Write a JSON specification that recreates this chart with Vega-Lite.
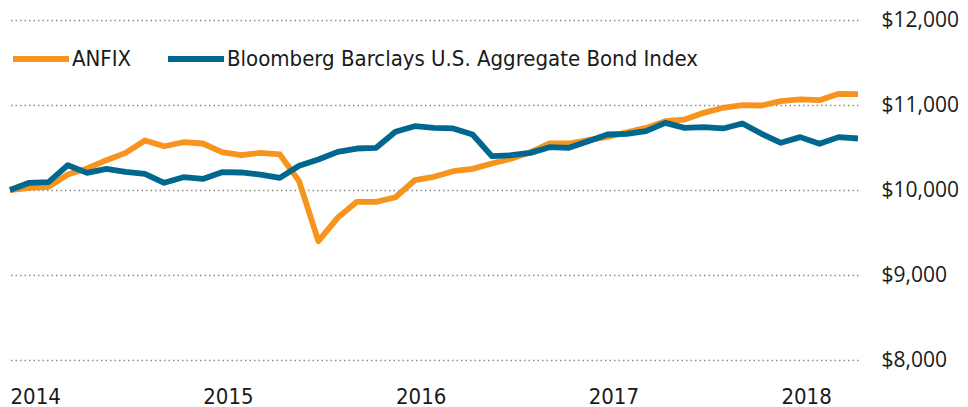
{
  "$schema": "https://vega.github.io/schema/vega-lite/v6.json",
  "width": 848,
  "height": 340,
  "autosize": {"type": "none"},
  "padding": {"left": 10, "top": 20, "right": 110, "bottom": 47},
  "background": "white",
  "config": {"view": {"stroke": null}},
  "data": {
    "values": [
      {"t": 2014.0, "series": "ANFIX", "value": 10000},
      {"t": 2014.1, "series": "ANFIX", "value": 10026},
      {"t": 2014.2, "series": "ANFIX", "value": 10037},
      {"t": 2014.3, "series": "ANFIX", "value": 10182},
      {"t": 2014.4, "series": "ANFIX", "value": 10253},
      {"t": 2014.5, "series": "ANFIX", "value": 10351},
      {"t": 2014.6, "series": "ANFIX", "value": 10437},
      {"t": 2014.7, "series": "ANFIX", "value": 10582},
      {"t": 2014.8, "series": "ANFIX", "value": 10515},
      {"t": 2014.9, "series": "ANFIX", "value": 10562},
      {"t": 2015.0, "series": "ANFIX", "value": 10547},
      {"t": 2015.1, "series": "ANFIX", "value": 10445},
      {"t": 2015.2, "series": "ANFIX", "value": 10409},
      {"t": 2015.3, "series": "ANFIX", "value": 10437},
      {"t": 2015.4, "series": "ANFIX", "value": 10418},
      {"t": 2015.5, "series": "ANFIX", "value": 10104},
      {"t": 2015.6, "series": "ANFIX", "value": 9398},
      {"t": 2015.7, "series": "ANFIX", "value": 9673},
      {"t": 2015.8, "series": "ANFIX", "value": 9861},
      {"t": 2015.9, "series": "ANFIX", "value": 9861},
      {"t": 2016.0, "series": "ANFIX", "value": 9915},
      {"t": 2016.1, "series": "ANFIX", "value": 10115},
      {"t": 2016.2, "series": "ANFIX", "value": 10155},
      {"t": 2016.3, "series": "ANFIX", "value": 10221},
      {"t": 2016.4, "series": "ANFIX", "value": 10249},
      {"t": 2016.5, "series": "ANFIX", "value": 10312},
      {"t": 2016.6, "series": "ANFIX", "value": 10367},
      {"t": 2016.7, "series": "ANFIX", "value": 10445},
      {"t": 2016.8, "series": "ANFIX", "value": 10547},
      {"t": 2016.9, "series": "ANFIX", "value": 10547},
      {"t": 2017.0, "series": "ANFIX", "value": 10586},
      {"t": 2017.1, "series": "ANFIX", "value": 10625},
      {"t": 2017.2, "series": "ANFIX", "value": 10680},
      {"t": 2017.3, "series": "ANFIX", "value": 10731},
      {"t": 2017.4, "series": "ANFIX", "value": 10810},
      {"t": 2017.5, "series": "ANFIX", "value": 10829},
      {"t": 2017.6, "series": "ANFIX", "value": 10908},
      {"t": 2017.7, "series": "ANFIX", "value": 10967},
      {"t": 2017.8, "series": "ANFIX", "value": 10998},
      {"t": 2017.9, "series": "ANFIX", "value": 10994},
      {"t": 2018.0, "series": "ANFIX", "value": 11045},
      {"t": 2018.1, "series": "ANFIX", "value": 11065},
      {"t": 2018.2, "series": "ANFIX", "value": 11057},
      {"t": 2018.3, "series": "ANFIX", "value": 11131},
      {"t": 2018.4, "series": "ANFIX", "value": 11127},
      {"t": 2014.0, "series": "Bloomberg Barclays U.S. Aggregate Bond Index", "value": 10000},
      {"t": 2014.1, "series": "Bloomberg Barclays U.S. Aggregate Bond Index", "value": 10085},
      {"t": 2014.2, "series": "Bloomberg Barclays U.S. Aggregate Bond Index", "value": 10092},
      {"t": 2014.3, "series": "Bloomberg Barclays U.S. Aggregate Bond Index", "value": 10292},
      {"t": 2014.4, "series": "Bloomberg Barclays U.S. Aggregate Bond Index", "value": 10202},
      {"t": 2014.5, "series": "Bloomberg Barclays U.S. Aggregate Bond Index", "value": 10249},
      {"t": 2014.6, "series": "Bloomberg Barclays U.S. Aggregate Bond Index", "value": 10214},
      {"t": 2014.7, "series": "Bloomberg Barclays U.S. Aggregate Bond Index", "value": 10190},
      {"t": 2014.8, "series": "Bloomberg Barclays U.S. Aggregate Bond Index", "value": 10085},
      {"t": 2014.9, "series": "Bloomberg Barclays U.S. Aggregate Bond Index", "value": 10151},
      {"t": 2015.0, "series": "Bloomberg Barclays U.S. Aggregate Bond Index", "value": 10130},
      {"t": 2015.1, "series": "Bloomberg Barclays U.S. Aggregate Bond Index", "value": 10210},
      {"t": 2015.2, "series": "Bloomberg Barclays U.S. Aggregate Bond Index", "value": 10206},
      {"t": 2015.3, "series": "Bloomberg Barclays U.S. Aggregate Bond Index", "value": 10180},
      {"t": 2015.4, "series": "Bloomberg Barclays U.S. Aggregate Bond Index", "value": 10143},
      {"t": 2015.5, "series": "Bloomberg Barclays U.S. Aggregate Bond Index", "value": 10285},
      {"t": 2015.6, "series": "Bloomberg Barclays U.S. Aggregate Bond Index", "value": 10359},
      {"t": 2015.7, "series": "Bloomberg Barclays U.S. Aggregate Bond Index", "value": 10449},
      {"t": 2015.8, "series": "Bloomberg Barclays U.S. Aggregate Bond Index", "value": 10488},
      {"t": 2015.9, "series": "Bloomberg Barclays U.S. Aggregate Bond Index", "value": 10496},
      {"t": 2016.0, "series": "Bloomberg Barclays U.S. Aggregate Bond Index", "value": 10685},
      {"t": 2016.1, "series": "Bloomberg Barclays U.S. Aggregate Bond Index", "value": 10751},
      {"t": 2016.2, "series": "Bloomberg Barclays U.S. Aggregate Bond Index", "value": 10731},
      {"t": 2016.3, "series": "Bloomberg Barclays U.S. Aggregate Bond Index", "value": 10724},
      {"t": 2016.4, "series": "Bloomberg Barclays U.S. Aggregate Bond Index", "value": 10653},
      {"t": 2016.5, "series": "Bloomberg Barclays U.S. Aggregate Bond Index", "value": 10398},
      {"t": 2016.6, "series": "Bloomberg Barclays U.S. Aggregate Bond Index", "value": 10409},
      {"t": 2016.7, "series": "Bloomberg Barclays U.S. Aggregate Bond Index", "value": 10437},
      {"t": 2016.8, "series": "Bloomberg Barclays U.S. Aggregate Bond Index", "value": 10504},
      {"t": 2016.9, "series": "Bloomberg Barclays U.S. Aggregate Bond Index", "value": 10496},
      {"t": 2017.0, "series": "Bloomberg Barclays U.S. Aggregate Bond Index", "value": 10574},
      {"t": 2017.1, "series": "Bloomberg Barclays U.S. Aggregate Bond Index", "value": 10653},
      {"t": 2017.2, "series": "Bloomberg Barclays U.S. Aggregate Bond Index", "value": 10661},
      {"t": 2017.3, "series": "Bloomberg Barclays U.S. Aggregate Bond Index", "value": 10692},
      {"t": 2017.4, "series": "Bloomberg Barclays U.S. Aggregate Bond Index", "value": 10790},
      {"t": 2017.5, "series": "Bloomberg Barclays U.S. Aggregate Bond Index", "value": 10731},
      {"t": 2017.6, "series": "Bloomberg Barclays U.S. Aggregate Bond Index", "value": 10739},
      {"t": 2017.7, "series": "Bloomberg Barclays U.S. Aggregate Bond Index", "value": 10724},
      {"t": 2017.8, "series": "Bloomberg Barclays U.S. Aggregate Bond Index", "value": 10782},
      {"t": 2017.9, "series": "Bloomberg Barclays U.S. Aggregate Bond Index", "value": 10661},
      {"t": 2018.0, "series": "Bloomberg Barclays U.S. Aggregate Bond Index", "value": 10555},
      {"t": 2018.1, "series": "Bloomberg Barclays U.S. Aggregate Bond Index", "value": 10622},
      {"t": 2018.2, "series": "Bloomberg Barclays U.S. Aggregate Bond Index", "value": 10543},
      {"t": 2018.3, "series": "Bloomberg Barclays U.S. Aggregate Bond Index", "value": 10622},
      {"t": 2018.4, "series": "Bloomberg Barclays U.S. Aggregate Bond Index", "value": 10606}
    ]
  },
  "mark": {"type": "line", "strokeWidth": 5.8, "strokeJoin": "round", "strokeCap": "butt"},
  "encoding": {
    "x": {
      "field": "t",
      "type": "quantitative",
      "scale": {"domain": [2014, 2018.4], "nice": false, "zero": false},
      "axis": {
        "title": null,
        "values": [2014, 2015, 2016, 2017, 2018],
        "format": "d",
        "grid": false,
        "domain": false,
        "ticks": false,
        "tickSize": 0,
        "labelAlign": "left",
        "labelBaseline": "middle",
        "labelPadding": 36,
        "labelDx": 1,
        "labelFont": "DejaVu Sans Condensed",
        "labelFontSize": 22,
        "labelColor": "#1a1a1a",
        "labelFlush": false,
        "labelOverlap": false
      }
    },
    "y": {
      "field": "value",
      "type": "quantitative",
      "scale": {"domain": [8000, 12000], "nice": false, "zero": false},
      "axis": {
        "title": null,
        "orient": "right",
        "values": [8000, 9000, 10000, 11000, 12000],
        "format": "$,.0f",
        "domain": false,
        "ticks": false,
        "tickSize": 0,
        "labelPadding": 23,
        "labelAlign": "left",
        "labelBaseline": "middle",
        "labelFont": "Open Sans",
        "labelFontSize": 21,
        "labelColor": "#1a1a1a",
        "grid": true,
        "gridColor": "#8c8c8c",
        "gridDash": [1.5, 3],
        "gridWidth": 1.5
      }
    },
    "color": {
      "field": "series",
      "type": "nominal",
      "scale": {
        "domain": ["ANFIX", "Bloomberg Barclays U.S. Aggregate Bond Index"],
        "range": ["#F7941E", "#00688E"]
      },
      "legend": {
        "title": null,
        "orient": "none",
        "direction": "horizontal",
        "legendX": 0,
        "legendY": 8,
        "symbolType": "stroke",
        "symbolSize": 3136,
        "symbolStrokeWidth": 6,
        "labelFont": "DejaVu Sans Condensed",
        "labelFontSize": 22,
        "labelColor": "#1a1a1a",
        "labelOffset": 0,
        "columnPadding": 24,
        "labelLimit": 0,
        "padding": 0
      }
    }
  }
}
